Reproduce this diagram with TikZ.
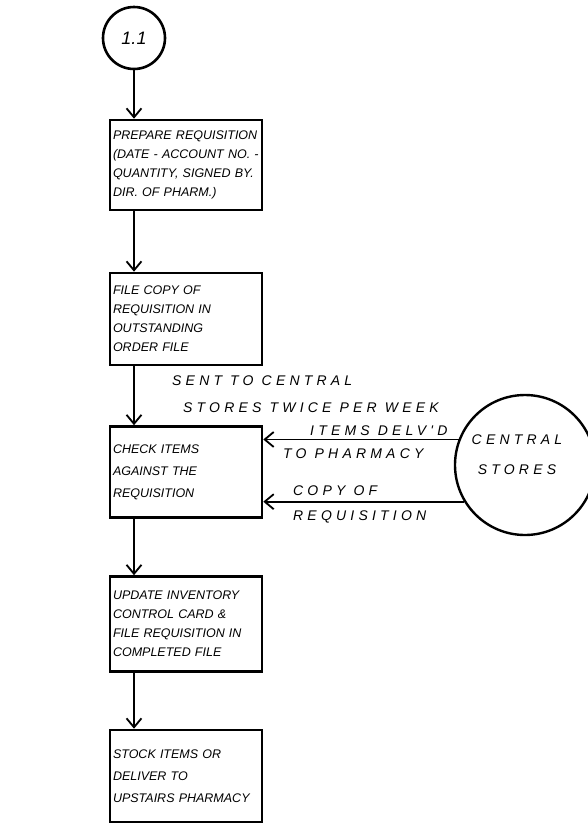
\documentclass[tikz,border=0pt]{standalone}
\usepackage{fontspec}
\setmainfont{Liberation Sans}
\newfontfamily\handfont[LetterSpace=30]{Liberation Sans}
\usetikzlibrary{arrows.meta}
\begin{document}
\begin{tikzpicture}[x=1pt,y=-1pt]
\tikzstyle{stepbox}=[draw,line width=2.6pt,text width=146pt,inner sep=3pt,align=left,font=\itshape\fontsize{12.5}{19}\selectfont]
\tikzstyle{flow}=[line width=1.8pt,-{Straight Barb[length=9pt,width=15pt]}]
\tikzstyle{note}=[inner sep=0pt,font=\handfont\itshape\fontsize{14}{30}\selectfont]

\useasboundingbox (0,0) rectangle (587,825);

\node[circle,draw,line width=2.6pt,minimum size=62pt,font=\itshape\fontsize{18}{20}\selectfont] (c11) at (134,38) {1.1};

\node[stepbox,minimum height=90pt] (prep) at (186,165)
  {PREPARE REQUISITION\\(DATE - ACCOUNT NO. -\\QUANTITY, SIGNED BY.\\DIR. OF PHARM.)};
\node[stepbox,minimum height=92pt] (file) at (186,319)
  {FILE COPY OF\\REQUISITION IN\\OUTSTANDING\\ORDER FILE};
\node[stepbox,minimum height=91pt,font=\itshape\fontsize{12.5}{22}\selectfont] (check) at (186,472)
  {CHECK ITEMS\\AGAINST THE\\REQUISITION};
\node[stepbox,minimum height=95pt] (update) at (186,624)
  {UPDATE INVENTORY\\CONTROL CARD \&\\FILE REQUISITION IN\\COMPLETED FILE};
\node[stepbox,minimum height=92pt,font=\itshape\fontsize{12.5}{22}\selectfont] (stock) at (186,776)
  {STOCK ITEMS OR\\DELIVER TO\\UPSTAIRS PHARMACY};

\node[circle,draw,line width=2.4pt,minimum size=140pt] (stores) at (525,465) {};
\node[note,align=center] (storestxt) at (517,455) {CENTRAL\\STORES};

% flow down the page
\draw[flow] (c11.south) -- (c11.south |- prep.north);
\draw[flow] (prep.south -| c11) -- (file.north -| c11);
\draw[flow] (file.south -| c11) -- (check.north -| c11);
\draw[flow] (check.south -| c11) -- (update.north -| c11);
\draw[flow] (update.south -| c11) -- (stock.north -| c11);

% from central stores
\draw[flow] (stores.159) -- (stores.159 -| check.east);
\draw[flow] (stores.211) -- (stores.211 -| check.east);

\node[note,anchor=west] (sent) at (172,381) {SENT TO CENTRAL};
\node[note,anchor=west] (twice) at (183,408) {STORES TWICE PER WEEK};
\node[note,anchor=west] (delvd) at (310,431) {ITEMS DELV'D};
\node[note,anchor=west] (topharm) at (283,454) {TO PHARMACY};
\node[note,anchor=west] (copyof) at (293,491) {COPY OF};
\node[note,anchor=west] (requis) at (293,517) {REQUISITION};

\end{tikzpicture}
\end{document}
